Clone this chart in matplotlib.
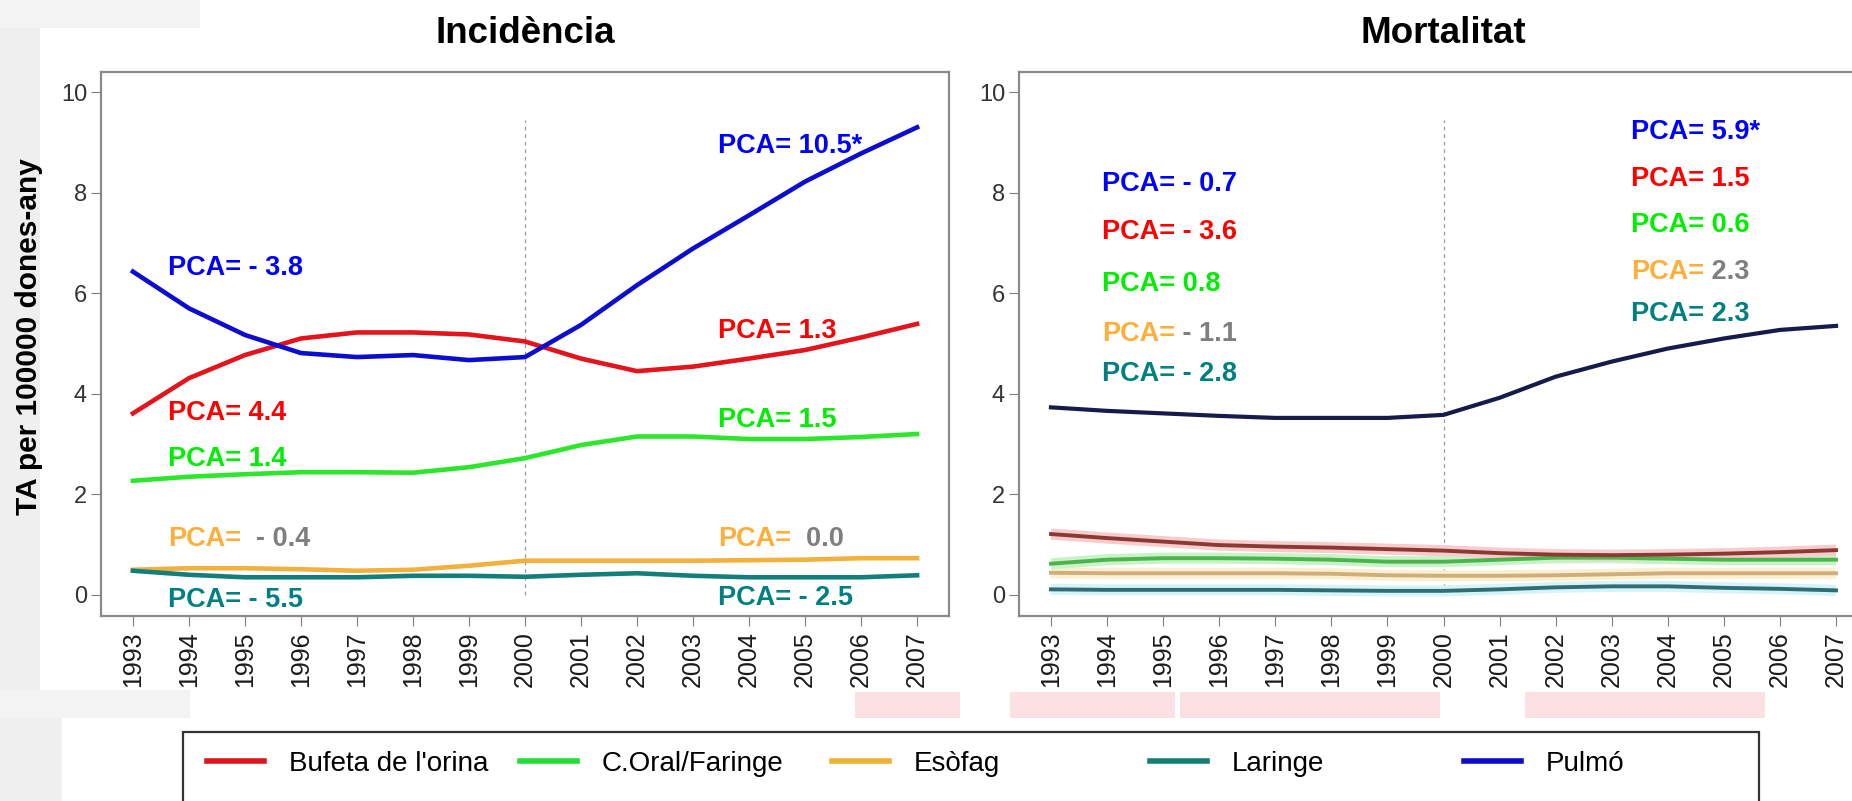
import matplotlib
matplotlib.use("Agg")
import matplotlib.pyplot as plt
from matplotlib.patches import Rectangle

plt.rcParams['font.family'] = ['Liberation Sans', 'DejaVu Sans']

years = list(range(1993, 2008))

# Incidència (TA per 100000 dones-any)
inc_bufeta = [3.61, 4.31, 4.77, 5.10, 5.22, 5.22, 5.18, 5.04, 4.70, 4.45, 4.54, 4.70, 4.87, 5.12, 5.39]
inc_oral = [2.27, 2.35, 2.40, 2.44, 2.44, 2.43, 2.54, 2.72, 2.98, 3.15, 3.15, 3.10, 3.10, 3.14, 3.20]
inc_esofag = [0.50, 0.53, 0.53, 0.51, 0.48, 0.50, 0.58, 0.68, 0.68, 0.68, 0.68, 0.69, 0.70, 0.73, 0.73]
inc_laringe = [0.48, 0.40, 0.35, 0.35, 0.35, 0.38, 0.38, 0.36, 0.40, 0.43, 0.38, 0.35, 0.35, 0.35, 0.39]
inc_pulmo = [6.43, 5.70, 5.17, 4.81, 4.73, 4.77, 4.67, 4.73, 5.37, 6.16, 6.89, 7.55, 8.22, 8.78, 9.30]

# Mortalitat
mor_bufeta = [1.21, 1.13, 1.06, 0.99, 0.96, 0.94, 0.91, 0.88, 0.83, 0.80, 0.79, 0.80, 0.82, 0.85, 0.89]
mor_oral = [0.62, 0.70, 0.73, 0.73, 0.72, 0.70, 0.66, 0.66, 0.70, 0.74, 0.74, 0.72, 0.70, 0.70, 0.70]
mor_esofag = [0.44, 0.43, 0.43, 0.43, 0.43, 0.42, 0.39, 0.38, 0.38, 0.39, 0.41, 0.43, 0.43, 0.43, 0.43]
mor_laringe = [0.11, 0.10, 0.10, 0.10, 0.10, 0.09, 0.08, 0.08, 0.11, 0.15, 0.17, 0.17, 0.14, 0.12, 0.09]
mor_pulmo = [3.73, 3.66, 3.61, 3.56, 3.52, 3.52, 3.52, 3.58, 3.92, 4.34, 4.64, 4.90, 5.10, 5.27, 5.35]

labels = ["Bufeta de l'orina", "C.Oral/Faringe", "Esòfag", "Laringe", "Pulmó"]

# PCA values (order: pulmó, bufeta, oral, esòfag, laringe), 1993-2000 and 2000-2007
inc_pca_1 = ["- 3.8", "4.4", "1.4", " - 0.4", "- 5.5"]
inc_pca_2 = ["10.5*", "1.3", "1.5", " 0.0", "- 2.5"]
mor_pca_1 = ["- 0.7", "- 3.6", "0.8", "- 1.1", "- 2.8"]
mor_pca_2 = ["5.9*", "1.5", "0.6", "2.3", "2.3"]

pca_colors = ['#0000ff', '#ff0000', '#00ee00', '#ffae3a', '#008080']
gray_val = '#7f7f7f'

W, H = 1852, 801
fig = plt.figure(figsize=(W / 100, H / 100), dpi=100)

# faint scan background
bg = '#efefef'
fig.add_artist(Rectangle((0, 0), 40 / W, 1, transform=fig.transFigure, color=bg, zorder=-5, lw=0))
fig.add_artist(Rectangle((0, 1 - 28 / H), 200 / W, 28 / H, transform=fig.transFigure, color='#f3f3f3', zorder=-5, lw=0))
fig.add_artist(Rectangle((0, 0), 62 / W, 110 / H, transform=fig.transFigure, color=bg, zorder=-5, lw=0))
fig.add_artist(Rectangle((0, 1 - 718 / H), 190 / W, 28 / H, transform=fig.transFigure, color='#f3f3f3', zorder=-5, lw=0))
for x0, x1 in [(855, 960), (1010, 1175), (1180, 1440), (1525, 1765)]:
    fig.add_artist(Rectangle((x0 / W, 1 - 718 / H), (x1 - x0) / W, 26 / H, transform=fig.transFigure,
                             color='#fbe1e4', zorder=-5, lw=0))

ax1 = fig.add_axes([101 / W, 1 - 616 / H, 848 / W, 544 / H])
ax2 = fig.add_axes([1019 / W, 1 - 616 / H, 849 / W, 544 / H])

inc_cols = ['#e3141c', '#2be62b', '#f2b13c', '#137f7a', '#0d0dd0']
l_buf, = ax1.plot(years, inc_bufeta, color=inc_cols[0], lw=3.3)
l_or, = ax1.plot(years, inc_oral, color=inc_cols[1], lw=3.3)
l_es, = ax1.plot(years, inc_esofag, color=inc_cols[2], lw=3.3)
l_lar, = ax1.plot(years, inc_laringe, color=inc_cols[3], lw=3.3)
l_pul, = ax1.plot(years, inc_pulmo, color=inc_cols[4], lw=3.3)

# mortality lines with soft halos
mor_series = [mor_laringe, mor_esofag, mor_oral, mor_bufeta]
mor_cols = ['#2f6d74', '#cfae7a', '#4cb44c', '#8c3934']
halo_cols = ['#d6f4f8', '#fbefd2', '#c9f2c9', '#f6cccc']
for s, h in zip(mor_series, halo_cols):
    ax2.plot(years, s, color=h, lw=8, solid_capstyle='butt')
for s, c in zip(mor_series, mor_cols):
    ax2.plot(years, s, color=c, lw=2.8)
ax2.plot(years, mor_pulmo, color='#161b4b', lw=3)

for ax, title in [(ax1, 'Incidència'), (ax2, 'Mortalitat')]:
    ax.set_xlim(1992.43, 2007.57)
    ax.set_ylim(-0.42, 10.4)
    ax.set_xticks(years)
    ax.set_xticklabels([str(y) for y in years], rotation=90, fontsize=18, color='#1a1a1a')
    ax.set_yticks([0, 2, 4, 6, 8, 10])
    ax.tick_params(axis='y', labelsize=17, labelcolor='#333333', length=7, color='#808080', pad=3)
    ax.tick_params(axis='x', length=7, color='#808080', pad=4)
    for sp in ax.spines.values():
        sp.set_color('#8a8a8a')
        sp.set_linewidth(1.6)
    ax.vlines(2000, 0, 9.45, colors='#9a9a9a', linestyles=(0, (3, 3)), lw=0.9, zorder=0.5)
    ax.set_title(title, fontsize=26.5, fontweight='bold', pad=21)


def pca(ax, x, y, val, col, val_col=None):
    kw = dict(fontsize=19.5, fontweight='bold', va='baseline', ha='left')
    if val_col is None:
        ax.text(x, y, "PCA= " + val, color=col, **kw)
    else:
        t = ax.text(x, y, "PCA=", color=col, **kw)
        ax.annotate(" " + val, xy=(1, 0), xycoords=t, va='bottom', ha='left',
                    fontsize=19.5, fontweight='bold', color=val_col)


# label positions (layout only)
inc_pos_1 = [6.36, 3.48, 2.56, 0.97, -0.24]
inc_pos_2 = [8.79, 5.11, 3.33, 0.97, -0.21]
mor_pos_1 = [8.03, 7.08, 6.04, 5.05, 4.25]
mor_pos_2 = [9.07, 8.13, 7.22, 6.28, 5.45]

for i in range(5):
    vc = gray_val if i == 3 else None
    pca(ax1, 1993.62, inc_pos_1[i], inc_pca_1[i], pca_colors[i], vc)
    pca(ax1, 2003.44, inc_pos_2[i], inc_pca_2[i], pca_colors[i], vc)
    pca(ax2, 1993.91, mor_pos_1[i], mor_pca_1[i], pca_colors[i], vc)
    pca(ax2, 2003.34, mor_pos_2[i], mor_pca_2[i], pca_colors[i], vc)

fig.text(29 / W, 1 - 337 / H, 'TA per 100000 dones-any', rotation=90, ha='center', va='center',
         fontsize=21.5, fontweight='bold')

# legend frame + one entry per column
fig.add_artist(Rectangle((183 / W, -0.05), (1759 - 183) / W, 0.05 + 1 - 732 / H,
                         transform=fig.transFigure, fill=False, ec='#333333', lw=1.6, zorder=3))
leg_x = [207, 520, 832, 1150, 1464]
leg_cols = ['#e0141e', '#22dd33', '#f0b030', '#127e74', '#0b0bcc']
for lab, x, c in zip(labels, leg_x, leg_cols):
    proxy = plt.Line2D([], [], color=c, lw=4)
    fig.legend([proxy], [lab], loc='center left', bbox_to_anchor=(x / W, 1 - 764 / H),
               frameon=False, fontsize=20, handlelength=2.05, handletextpad=0.9,
               borderpad=0, borderaxespad=0)

fig.savefig('out.png', dpi=100)
